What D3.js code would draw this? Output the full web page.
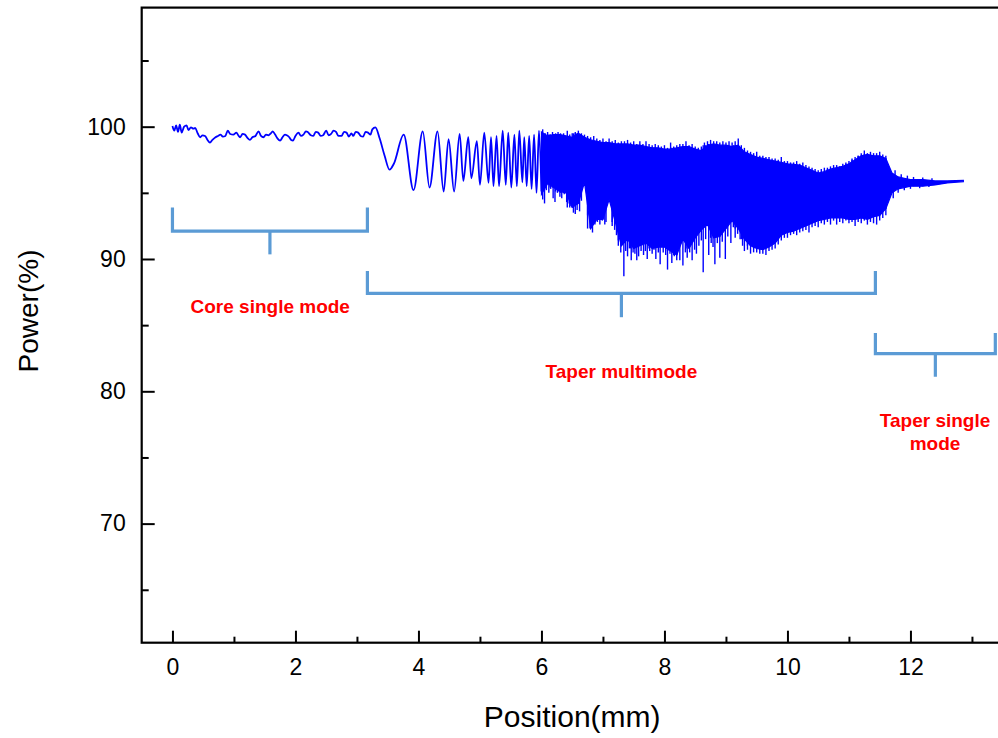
<!DOCTYPE html>
<html>
<head>
<meta charset="utf-8">
<script src="https://cdn.jsdelivr.net/npm/d3@7"></script>
<style>
  body { margin: 0; background: #fff; }
  text { font-family: "Liberation Sans", Arial, sans-serif; }
</style>
</head>
<body>
<svg width="998" height="738"></svg>
<script>
// --- data ---
// core region: slow wiggles close to 100 %
const corePos = [0, 0.03, 0.06, 0.09, 0.12, 0.15, 0.19, 0.23, 0.26, 0.3, 0.34, 0.37, 0.41, 0.45, 0.49, 0.53, 0.57, 0.61, 0.65, 0.7, 0.74, 0.78, 0.82, 0.86, 0.9, 0.94, 0.99, 1.04, 1.07, 1.1, 1.14, 1.18, 1.22, 1.26, 1.3, 1.35, 1.4, 1.44, 1.48, 1.52, 1.56, 1.6, 1.63, 1.67, 1.71, 1.75, 1.79, 1.83, 1.86, 1.9, 1.93, 1.96, 2.0, 2.05, 2.09, 2.13, 2.17, 2.2, 2.25, 2.29, 2.33, 2.37, 2.41, 2.45, 2.5, 2.54, 2.58, 2.62, 2.66, 2.7, 2.75, 2.79, 2.83, 2.87, 2.91, 2.94, 2.98, 3.02, 3.06, 3.1, 3.14, 3.18, 3.22, 3.25, 3.3];
const corePow = [100.05, 99.7, 100.1, 99.6, 100.15, 99.55, 100.0, 100.1, 99.75, 99.95, 99.85, 99.9, 99.5, 99.2, 99.35, 99.3, 99.0, 98.8, 99.0, 99.2, 99.3, 99.4, 99.25, 99.3, 99.7, 99.45, 99.4, 99.55, 99.35, 99.2, 99.45, 99.4, 99.15, 99.0, 99.2, 99.3, 99.65, 99.3, 99.2, 99.4, 99.35, 99.5, 99.65, 99.4, 99.1, 98.95, 99.2, 99.4, 99.35, 99.2, 99.0, 98.95, 99.3, 99.55, 99.3, 99.4, 99.65, 99.6, 99.35, 99.3, 99.6, 99.55, 99.3, 99.35, 99.7, 99.35, 99.45, 99.7, 99.6, 99.3, 99.3, 99.6, 99.55, 99.25, 99.5, 99.3, 99.6, 99.55, 99.3, 99.25, 99.6, 99.55, 99.4, 99.8, 99.95];

// taper region: growing oscillations (peaks and troughs)
const oscPos = [3.37, 3.45, 3.53, 3.6, 3.76, 3.92, 4.07, 4.18, 4.31, 4.41, 4.49, 4.58, 4.67, 4.73, 4.81, 4.86, 4.95, 5.0, 5.07, 5.14, 5.18, 5.22, 5.27, 5.31, 5.37, 5.42, 5.46, 5.51, 5.56, 5.6, 5.64, 5.69, 5.72, 5.76, 5.8, 5.84, 5.88, 5.92, 5.96, 6.0];
const oscPow = [99.1, 97.8, 96.75, 97.2, 99.4, 95.2, 99.65, 95.4, 99.65, 95.1, 99.05, 95.1, 99.45, 95.9, 99.2, 96.1, 98.9, 95.6, 99.55, 95.75, 99.2, 95.5, 99.3, 95.5, 99.7, 95.6, 99.55, 95.4, 99.4, 95.5, 99.7, 95.8, 99.2, 95.5, 99.3, 95.3, 99.4, 95.0, 99.7, 95.1];

// multimode region: envelope of the dense oscillation
const bandPos = [6.0, 6.1, 6.2, 6.3, 6.4, 6.5, 6.6, 6.7, 6.8, 6.9, 7.0, 7.1, 7.2, 7.3, 7.4, 7.5, 7.6, 7.7, 7.8, 7.9, 8.0, 8.1, 8.2, 8.3, 8.4, 8.5, 8.6, 8.7, 8.8, 8.9, 9.0, 9.1, 9.2, 9.3, 9.4, 9.5, 9.6, 9.7, 9.8, 9.9, 10.0, 10.1, 10.2, 10.3, 10.4, 10.5, 10.6, 10.7, 10.8, 10.9, 11.0, 11.1, 11.2, 11.3, 11.4, 11.5, 11.6, 11.7, 11.8, 11.9, 12.0, 12.2, 12.4, 12.6, 12.86];
const bandTop = [99.6, 99.3, 99.4, 99.4, 99.3, 99.2, 99.5, 99.2, 99.0, 98.9, 98.8, 98.8, 98.7, 98.7, 98.7, 98.6, 98.6, 98.5, 98.4, 98.4, 98.3, 98.3, 98.4, 98.5, 98.5, 98.3, 98.2, 98.6, 98.7, 98.6, 98.6, 98.5, 98.6, 98.1, 97.9, 97.7, 97.6, 97.5, 97.4, 97.3, 97.2, 97.15, 97.1, 96.9, 96.7, 96.5, 96.6, 96.8, 96.9, 97.0, 97.2, 97.5, 97.8, 97.9, 97.8, 97.8, 97.6, 96.5, 96.2, 96.1, 96.0, 96.0, 95.9, 95.9, 95.95];
const bandLow = [94.9, 95.7, 95.4, 95.1, 95.0, 93.9, 94.2, 95.8, 92.3, 93.0, 93.0, 94.5, 92.8, 91.0, 91.5, 90.8, 91.0, 91.2, 90.8, 90.9, 90.9, 90.6, 90.3, 91.5, 90.8, 91.6, 92.2, 92.6, 91.6, 91.7, 92.3, 92.9, 92.3, 91.5, 91.0, 90.8, 90.7, 90.9, 91.2, 91.8, 92.0, 92.1, 92.3, 92.5, 92.7, 92.9, 93.0, 93.1, 93.1, 93.1, 93.0, 93.0, 93.1, 93.0, 93.2, 93.3, 93.8, 95.0, 95.3, 95.4, 95.5, 95.5, 95.6, 95.75, 95.85];

// single spikes poking out of the envelope
const dipPos = [6.02, 6.05, 6.08, 6.12, 6.15, 6.19, 6.22, 6.26, 6.3, 6.33, 6.37, 6.41, 6.45, 6.48, 6.52, 6.55, 6.58, 6.62, 6.65, 6.75, 6.79, 6.83, 6.87, 6.91, 6.95, 6.99, 7.03, 7.05, 7.15, 7.19, 7.22, 7.25, 7.29, 7.34, 7.37, 7.4, 7.43, 7.46, 7.49, 7.52, 7.55, 7.58, 7.62, 7.66, 7.69, 7.72, 7.76, 7.8, 7.83, 7.86, 7.9, 7.93, 7.98, 8.02, 8.05, 8.09, 8.12, 8.16, 8.2, 8.25, 8.3, 8.34, 8.37, 8.41, 8.45, 8.49, 8.52, 8.56, 8.6, 8.63, 8.67, 8.72, 8.76, 8.79, 8.82, 8.86, 8.9, 8.94, 8.99, 9.03, 9.08, 9.12, 9.15, 9.19, 9.23, 9.27, 9.3, 9.35, 9.4, 9.45, 9.5, 9.55, 9.6, 9.65, 9.7, 9.75, 9.8, 9.85, 9.9, 9.95, 10.0, 10.05, 10.1, 10.15, 10.2, 10.25, 10.3, 10.35, 10.4, 10.45, 10.5, 10.55, 10.6, 10.65, 10.7, 10.75, 10.8, 10.85, 10.9, 10.95, 11.0, 11.05, 11.1, 11.15, 11.2, 11.25, 11.3, 11.35, 11.4, 11.45, 11.5, 11.55, 11.6, 11.72, 11.8, 11.9, 12.0, 12.15, 12.3];
const dipPow = [94.5, 94.2, 95.2, 95.0, 95.3, 94.6, 94.3, 95.0, 94.7, 94.6, 94.9, 94.3, 94.2, 94.0, 93.5, 93.4, 93.7, 93.6, 94.4, 93.3, 92.3, 92.0, 92.6, 92.8, 92.6, 92.9, 92.6, 92.8, 92.5, 92.2, 91.8, 91.4, 90.5, 88.7, 90.6, 90.2, 90.8, 89.9, 90.5, 90.4, 89.9, 90.2, 90.6, 90.3, 90.6, 90.0, 90.6, 90.4, 90.7, 90.0, 90.5, 89.6, 90.5, 90.3, 89.2, 90.4, 89.7, 90.2, 89.9, 89.9, 89.5, 90.5, 90.1, 90.5, 89.9, 90.7, 90.4, 91.0, 91.4, 89.0, 91.5, 90.3, 91.2, 90.9, 89.6, 91.2, 90.1, 91.3, 90.0, 91.7, 91.2, 92.4, 91.6, 91.9, 91.5, 91.0, 90.6, 90.7, 90.4, 90.5, 90.5, 90.4, 90.4, 90.3, 90.6, 90.7, 90.8, 91.1, 91.4, 91.6, 91.6, 91.8, 91.9, 91.8, 92.0, 92.1, 92.2, 92.0, 92.4, 92.5, 92.4, 92.7, 92.6, 92.8, 92.6, 92.9, 92.6, 92.8, 92.7, 92.9, 92.7, 92.8, 92.5, 92.8, 92.7, 92.9, 92.6, 92.8, 92.7, 92.6, 92.9, 93.1, 93.3, 94.6, 95.0, 95.2, 95.3, 95.35, 95.45];
const peakPos = [6.02, 6.06, 6.1, 6.14, 6.18, 6.23, 6.27, 6.31, 6.36, 6.42, 6.46, 6.5, 6.55, 6.6, 6.65, 6.7, 6.75, 6.8, 6.85, 6.9, 6.95, 7.0, 7.05, 7.1, 7.15, 7.2, 7.25, 7.3, 7.35, 7.4, 7.45, 7.5, 7.55, 7.6, 7.65, 7.7, 7.75, 7.8, 7.85, 7.9, 7.95, 8.0, 8.05, 8.1, 8.15, 8.2, 8.25, 8.3, 8.35, 8.4, 8.45, 8.5, 8.55, 8.6, 8.65, 8.7, 8.75, 8.8, 8.85, 8.9, 8.95, 9.0, 9.05, 9.1, 9.15, 9.2, 9.25, 9.3, 9.35, 9.4, 9.45, 9.5, 9.55, 9.6, 9.65, 9.7, 9.75, 9.8, 9.85, 9.9, 9.95, 10.0, 10.05, 10.1, 10.15, 10.2, 10.25, 10.3, 10.35, 10.4, 10.45, 10.5, 10.55, 10.6, 10.65, 10.7, 10.75, 10.8, 10.85, 10.9, 10.95, 11.0, 11.05, 11.1, 11.15, 11.2, 11.25, 11.3, 11.35, 11.4, 11.45, 11.5, 11.55, 11.6, 11.75, 11.85, 11.95, 12.05, 12.2, 12.35];
const peakPow = [99.8, 99.5, 99.6, 99.4, 99.6, 99.5, 99.6, 99.5, 99.5, 99.7, 99.4, 99.5, 99.6, 99.7, 99.5, 99.4, 99.3, 99.2, 99.3, 99.1, 99.0, 99.1, 98.9, 99.1, 98.9, 99.0, 98.8, 98.9, 98.9, 99.0, 98.8, 98.9, 98.7, 98.9, 98.7, 98.9, 98.7, 98.6, 98.7, 98.6, 98.5, 98.6, 98.4, 98.8, 98.5, 98.6, 98.7, 98.7, 98.9, 98.6, 98.7, 98.5, 98.4, 98.5, 98.8, 98.9, 99.0, 98.9, 98.9, 98.8, 98.9, 98.8, 98.9, 98.8, 98.9, 99.1, 98.6, 98.4, 98.2, 98.1, 98.0, 98.1, 97.8, 97.8, 97.7, 97.7, 97.6, 97.6, 97.5, 97.7, 97.4, 97.4, 97.3, 97.3, 97.4, 97.2, 97.3, 97.1, 97.0, 96.9, 96.8, 96.7, 96.8, 96.9, 96.9, 97.0, 97.1, 97.1, 97.0, 97.2, 97.3, 97.4, 97.6, 97.7, 97.8, 98.0, 98.2, 98.0, 98.1, 98.0, 98.0, 98.1, 97.9, 97.8, 96.7, 96.4, 96.3, 96.2, 96.15, 96.1];

// region brackets and their labels
const regionNames = [['Core single mode'], ['Taper multimode'], ['Taper single', 'mode']];
const regionStart = [0, 3.17, 11.43];
const regionEnd = [3.17, 11.43, 13.38];
const regionTop = [93.9, 89.1, 84.4];
const regionBar = [92.1, 87.4, 82.85];
const regionStem = [90.35, 85.6, 81.1];
const regionLabelPos = [1.59, 7.3, 12.4];
const regionLabelPow = [85.9, 81.0, 77.3];

const xTicks = [0, 2, 4, 6, 8, 10, 12];
const xMinor = [1, 3, 5, 7, 9, 11, 13];
const yTicks = [70, 80, 90, 100];
const yMinor = [65, 75, 85, 95, 105];

// --- drawing ---
const svg = d3.select('svg');

const x = d3.scaleLinear().domain([-0.5, 13.5]).range([141.7, 1002.7]);
const y = d3.scaleLinear().domain([61, 109]).range([642.7, 7.6]);

const blue = '#0000ff';
const bracketBlue = '#5b9bd5';

// trace before the multimode band
const trace = corePos.map((p, i) => [p, corePow[i]])
  .concat(oscPos.map((p, i) => [p, oscPow[i]]));

svg.append('path')
    .datum(trace)
    .attr('fill', 'none')
    .attr('stroke', blue)
    .attr('stroke-width', 1.8)
    .attr('stroke-linejoin', 'round')
    .attr('d', d3.line().curve(d3.curveMonotoneX).x(d => x(d[0])).y(d => y(d[1])));

// dense band
const band = bandPos.map((p, i) => ({ p, top: bandTop[i], low: bandLow[i] }));
svg.append('path')
    .datum(band)
    .attr('fill', blue)
    .attr('stroke', blue)
    .attr('stroke-width', 1.2)
    .attr('d', d3.area().x(d => x(d.p)).y0(d => y(d.low)).y1(d => y(d.top)));

const nearest = p => band[Math.min(band.length - 1, d3.bisectLeft(bandPos, p))];

svg.append('g')
  .selectAll('line')
  .data(dipPos.map((p, i) => [p, dipPow[i]]))
  .join('line')
    .attr('x1', d => x(d[0]))
    .attr('x2', d => x(d[0]))
    .attr('y1', d => y(d[1]))
    .attr('y2', d => y(nearest(d[0]).top))
    .attr('stroke', blue)
    .attr('stroke-width', 1.4);

svg.append('g')
  .selectAll('line')
  .data(peakPos.map((p, i) => [p, peakPow[i]]))
  .join('line')
    .attr('x1', d => x(d[0]))
    .attr('x2', d => x(d[0]))
    .attr('y1', d => y(d[1]))
    .attr('y2', d => y(nearest(d[0]).low))
    .attr('stroke', blue)
    .attr('stroke-width', 1.4);

// brackets
regionNames.forEach((lines, i) => {
  const g = svg.append('g')
      .attr('stroke', bracketBlue)
      .attr('stroke-width', 3.2)
      .attr('fill', 'none');
  const mid = (regionStart[i] + regionEnd[i]) / 2;
  g.append('path')
      .attr('d', `M${x(regionStart[i])},${y(regionTop[i])}V${y(regionBar[i])}H${x(regionEnd[i])}V${y(regionTop[i])}`);
  g.append('line')
      .attr('x1', x(mid)).attr('x2', x(mid))
      .attr('y1', y(regionBar[i])).attr('y2', y(regionStem[i]));

  svg.append('text')
      .attr('x', x(regionLabelPos[i]))
      .attr('y', y(regionLabelPow[i]))
      .attr('text-anchor', 'middle')
      .attr('fill', '#ff0000')
      .attr('font-weight', 'bold')
      .attr('font-size', 19)
    .selectAll('tspan')
    .data(lines)
    .join('tspan')
      .attr('x', x(regionLabelPos[i]))
      .attr('dy', (d, j) => j === 0 ? 0 : 23)
      .text(d => d);
});

// axes
const styleAxis = g => {
  g.select('.domain').remove();
  g.selectAll('.tick line').attr('stroke', '#000').attr('stroke-width', 2);
  g.selectAll('.tick text').attr('fill', '#000').attr('font-size', 23)
    .attr('font-family', '"Liberation Sans", Arial, sans-serif');
};

svg.append('g')
    .attr('transform', `translate(0,${y(61)})`)
    .call(d3.axisBottom(x).tickValues(xTicks).tickSize(-12).tickPadding(16))
    .call(styleAxis);
svg.append('g')
    .attr('transform', `translate(0,${y(61)})`)
    .call(d3.axisBottom(x).tickValues(xMinor).tickSize(-6).tickFormat(''))
    .call(styleAxis);
svg.append('g')
    .attr('transform', `translate(${x(-0.5)},0)`)
    .call(d3.axisLeft(y).tickValues(yTicks).tickSize(-13).tickPadding(16))
    .call(styleAxis);
svg.append('g')
    .attr('transform', `translate(${x(-0.5)},0)`)
    .call(d3.axisLeft(y).tickValues(yMinor).tickSize(-7).tickFormat(''))
    .call(styleAxis);

// frame
svg.append('rect')
    .attr('x', x(-0.5))
    .attr('y', y(109))
    .attr('width', x(13.5) - x(-0.5))
    .attr('height', y(61) - y(109))
    .attr('fill', 'none')
    .attr('stroke', '#000')
    .attr('stroke-width', 2.2);

// axis titles
svg.append('text')
    .attr('x', (x(-0.5) + x(13.5)) / 2)
    .attr('y', 727)
    .attr('text-anchor', 'middle')
    .attr('font-size', 30)
    .text('Position(mm)');

svg.append('text')
    .attr('transform', 'translate(38,311) rotate(-90)')
    .attr('text-anchor', 'middle')
    .attr('font-size', 28)
    .text('Power(%)');
</script>
</body>
</html>
